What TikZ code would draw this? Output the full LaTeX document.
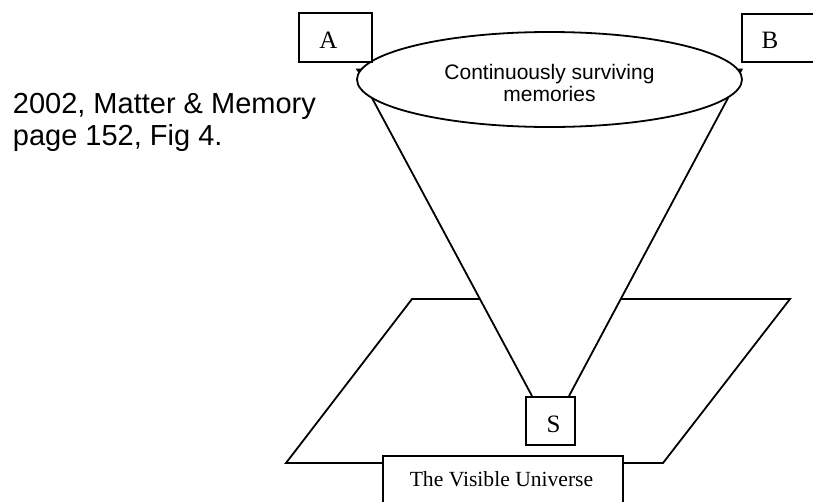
\documentclass[tikz,border=0pt]{standalone}
\usepackage{fontspec}
\setmainfont{Liberation Serif}
\newfontfamily\arialf{Liberation Sans}
\usetikzlibrary{shapes.geometric}
\begin{document}
\begin{tikzpicture}[x=1pt,y=-1pt,line width=1.8pt,
  box/.style={draw,fill=white,rectangle,inner sep=0pt,anchor=north west},
  lbl/.style={font=\fontsize{25}{28}\selectfont,anchor=base,inner sep=0pt},
  sanstxt/.style={font=\arialf\fontsize{29}{33}\selectfont,anchor=base west,inner sep=0pt},
  elltxt/.style={font=\arialf\fontsize{21}{23}\selectfont,anchor=base,inner sep=0pt},
  tick/.style={fill=black,draw=none}]
\useasboundingbox (0,0) rectangle (813,501);
\clip (0,0) rectangle (813,501);
% plane
\coordinate (p1) at (412,299);
\coordinate (p2) at (790,299);
\coordinate (p3) at (663,463);
\coordinate (p4) at (286,463);
\draw[line join=miter] (p1) -- (p2) -- (p3) -- (p4) -- cycle;
% cone
\coordinate (cl) at (372,98);
\coordinate (cr) at (728,98);
\coordinate (sl) at (532,396);
\coordinate (sr) at (569,396);
\fill[white] (cl) -- (cr) -- (sr) -- (sl) -- cycle;
\draw (cl) -- (sl);
\draw (cr) -- (sr);
% ellipse
\node[draw,fill=white,ellipse,minimum width=385pt,minimum height=95pt,inner sep=0pt] (mem) at (549.5,79.5) {};
\node[elltxt] (m1) at (549.5,79) {Continuously surviving};
\node[elltxt] (m2) at (549.5,101.5) {memories};
% small tips
\fill[tick] (355.5,68.5) -- (361.5,68.5) -- (359,73.5) -- cycle;
\fill[tick] (737,68.5) -- (743,68.5) -- (740.5,73.5) -- cycle;
% boxes
\node[box,minimum width=73pt,minimum height=49pt] (A) at (298,12) {};
\node[lbl] (Alab) at (328.5,48) {A};
\node[box,minimum width=73pt,minimum height=48pt] (B) at (741,13) {};
\node[lbl] (Blab) at (770,48) {B};
\node[box,minimum width=49pt,minimum height=48pt] (S) at (525,396) {};
\node[lbl] (Slab) at (553.5,432) {S};
\node[box,minimum width=240pt,minimum height=70pt] (U) at (382,455) {};
\node[font=\fontsize{21.6}{24}\selectfont,anchor=base,inner sep=0pt] (Ulab) at (501.5,486) {The Visible Universe};
% side text
\node[sanstxt] (t1) at (12,113) {2002, Matter \& Memory};
\node[sanstxt] (t2) at (12,145) {page 152, Fig 4.};
\end{tikzpicture}
\end{document}
